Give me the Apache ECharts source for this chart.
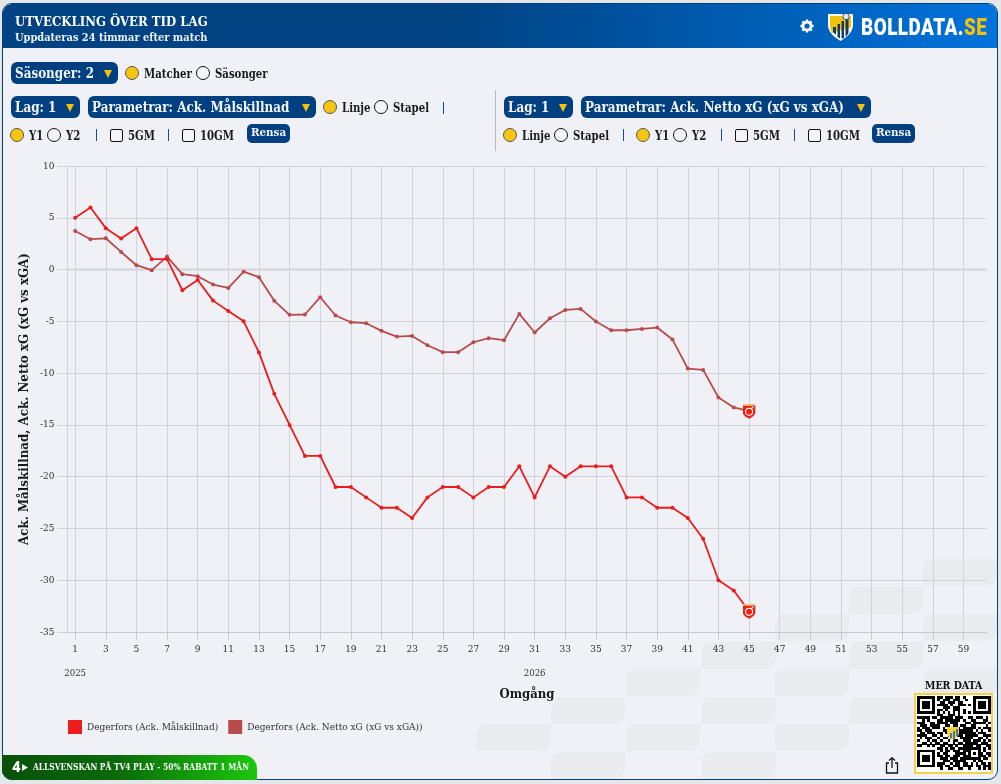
<!DOCTYPE html>
<html lang="sv"><head><meta charset="utf-8">
<script src="https://cdn.jsdelivr.net/npm/echarts@6/dist/echarts.min.js"></script>
<style>
html,body{margin:0;padding:0;width:1001px;height:784px;overflow:hidden;background:#e4e7ea;font-family:"DejaVu Serif Condensed","DejaVu Serif",serif}
#panel{position:absolute;left:2px;top:3px;width:994px;height:775px;background:#eff1f6;border:1.5px solid #004080;border-radius:10px;overflow:hidden}
#hdr{position:absolute;left:0;top:0;right:0;height:44px;background:linear-gradient(90deg,#004282 0,#004282 45%,#0073dc 100%)}
#pat{position:absolute;left:0;top:0;width:1001px;height:784px}
#chart{position:absolute;left:0;top:0;width:1001px;height:784px}
.a{position:absolute;white-space:nowrap}
.t{font-weight:700;font-size:12px;color:#1a1a1a;line-height:14px;transform:scaleX(.94);transform-origin:0 50%}
.btn{background:#004080;border-radius:6px;height:22px;box-sizing:border-box}
.btn b{position:absolute;left:4px;top:1px;color:#f2f4f8;font-weight:700;font-size:14px;line-height:20px;transform:scaleX(.95);transform-origin:0 50%}
.btn i{position:absolute;right:6px;top:8px;width:0;height:0;border-left:4.5px solid transparent;border-right:4.5px solid transparent;border-top:8px solid #f4c20d}
.r{position:absolute;width:12px;height:12px;border:1px solid #111;border-radius:50%;background:#f4f5f9}
.r.on{background:#f7c511;border-color:#555}
.c{position:absolute;width:11px;height:11px;border:1px solid #111;border-radius:2px;background:#f4f5f9}
.s{position:absolute;width:1px;height:12px;background:#0a4f92}
.rn{background:#004080;border-radius:5px;color:#f2f4f8;font-weight:700;font-size:11.5px;height:19px;line-height:17px;text-align:center;width:43px}
</style></head><body>
<div id="panel"><div id="hdr"></div></div>
<svg id="pat"></svg>
<div id="chart"></div>
<div id="ui"></div>
<script>
const rounds = ["1","2","3","4","5","6","7","8","9","10","11","12","13","14","15","16","17","18","19","20","21","22","23","24","25","26","27","28","29","30","31","32","33","34","35","36","37","38","39","40","41","42","43","44","45","46","47","48","49","50","51","52","53","54","55","56","57","58","59","60"];
const yearLabels = {"1":"2025","31":"2026"};
const goalDiff = [5,6,4,3,4,1,1,-2,-1,-3,-4,-5,-8,-12,-15,-18,-18,-21,-21,-22,-23,-23,-24,-22,-21,-21,-22,-21,-21,-19,-22,-19,-20,-19,-19,-19,-22,-22,-23,-23,-24,-26,-30,-31,-33];
const netXg = [3.73,2.93,3.02,1.7,0.42,-0.06,1.25,-0.45,-0.64,-1.45,-1.77,-0.2,-0.74,-3.02,-4.37,-4.34,-2.67,-4.44,-5.09,-5.18,-5.92,-6.47,-6.41,-7.31,-7.98,-7.98,-7.02,-6.63,-6.82,-4.28,-6.08,-4.7,-3.9,-3.8,-5.02,-5.86,-5.86,-5.73,-5.6,-6.76,-9.56,-9.69,-12.36,-13.32,-13.68];
const seriesNames = ["Degerfors (Ack. Målskillnad)","Degerfors (Ack. Netto xG (xG vs xGA))"];
const yTitle = "Ack. Målskillnad, Ack. Netto xG (xG vs xGA)";
const xTitle = "Omgång";
const FONT = '"DejaVu Serif Condensed","DejaVu Serif",serif';

/* crest shown on the latest round */
const crest = 'image://data:image/svg+xml;utf8,' + encodeURIComponent('<svg xmlns="http://www.w3.org/2000/svg" width="26" height="30" viewBox="0 0 26 30"><path d="M0 0H26V4H0Z" fill="#eec27a"/><path d="M0 4H26V16C26 23 19 27 13 30C7 27 0 23 0 16Z" fill="#e8230f"/><circle cx="13" cy="16" r="7" fill="#e8230f" stroke="#fff" stroke-width="2.200"/><path d="M17 10L22 6" stroke="#fff" stroke-width="2.200"/></svg>');
const sym = (v,p)=> p.dataIndex===44 ? crest : 'circle';
const symS = (v,p)=> p.dataIndex===44 ? [13,15] : 4;

const chart = echarts.init(document.getElementById('chart'),null,{renderer:'canvas'});
chart.setOption({
  animation:false,
  backgroundColor:'transparent',
  textStyle:{fontFamily:FONT},
  grid:{left:67.5,top:166,width:919,height:466,containLabel:false},
  legend:{left:68,top:720,icon:'rect',itemWidth:14,itemHeight:14,itemGap:10,padding:0,
    textStyle:{fontFamily:FONT,fontSize:10,color:'#333'},
    data:seriesNames},
  xAxis:[{
    type:'category',data:rounds,position:'bottom',boundaryGap:true,
    axisLine:{show:true,onZero:false,lineStyle:{color:'#c6c9cf',width:1}},
    axisTick:{show:true,alignWithLabel:true,interval:1,length:8,lineStyle:{color:'#c6c9cf'}},
    axisLabel:{interval:1,margin:12,fontSize:10,color:'#333',fontFamily:FONT},
    splitLine:{show:true,interval:1,alignWithLabel:true,lineStyle:{color:'#d0d3d9',width:1}},
    name:xTitle,nameLocation:'middle',nameGap:56,
    nameTextStyle:{fontFamily:FONT,fontWeight:'bold',fontSize:13,color:'#1a1a1a'}
  },{
    type:'category',data:rounds,position:'bottom',offset:29,boundaryGap:true,
    axisLine:{show:false},axisTick:{show:false},splitLine:{show:false},
    axisLabel:{interval:0,fontSize:9.5,color:'#333',fontFamily:FONT,hideOverlap:false,
      formatter:v=>yearLabels[v]||''}
  }],
  yAxis:{
    type:'value',min:-35,max:10,interval:5,
    axisLine:{show:true,lineStyle:{color:'#d0d3d9'}},
    axisTick:{show:true,length:10,lineStyle:{color:'#d0d3d9'}},
    axisLabel:{margin:13,fontSize:10,color:'#333',fontFamily:FONT},
    splitLine:{show:true,lineStyle:{color:'#d0d3d9',width:1}},
    name:yTitle,nameLocation:'middle',nameGap:36,nameRotate:90,nameMoveOverlap:false,
    nameTextStyle:{fontFamily:FONT,fontWeight:'bold',fontSize:13.2,color:'#1a1a1a'}
  },
  series:[
    {name:seriesNames[0],type:'line',data:goalDiff,showSymbol:true,showAllSymbol:true,symbol:sym,symbolSize:symS,
     color:'#f4140f',lineStyle:{color:'#ea1c1c',width:1.8},itemStyle:{color:'#ea1c1c'},z:3,
     markLine:{silent:true,symbol:'none',label:{show:false},animation:false,z:1,
       lineStyle:{color:'#d6d8dd',width:2.5,type:'solid'},data:[{yAxis:0}]}},
    {name:seriesNames[1],type:'line',data:netXg,showSymbol:true,showAllSymbol:true,symbol:sym,symbolSize:symS,
     color:'#b84c4c',lineStyle:{color:'#b84c4c',width:1.8},itemStyle:{color:'#b84c4c'},z:2}
  ]
});

/* background tiles */
const tileCols = [477,551,626,702,775,849,923];
const tileRows = [559,587,614,642,669,697,724,752];
const tilePairs = [[0,6],[1,5],[2,4],[2,6],[3,3],[3,5],[4,2],[4,4],[4,6],[5,1],[5,3],[5,5],[6,0],[6,2],[6,4],[7,1],[7,3]];
document.getElementById('pat').innerHTML = tilePairs.map(([r,c])=>{
  const x=tileCols[c],y=tileRows[r],w=74,h=27;
  return `<path d="M${x+9} ${y}H${x+w}V${y+12}Q${x+w} ${y+h} ${x+w-13} ${y+h}H${x}V${y+13}Q${x} ${y} ${x+9} ${y}Z" fill="#e9ebef"/>`;
}).join('');

/* controls */
const ui = document.getElementById('ui');
const add = (html)=>ui.insertAdjacentHTML('beforeend',html);
const text=(x,y,s,st='')=>add(`<span class="a t" style="left:${x}px;top:${y-6}px;${st}">${s}</span>`);
const radio=(cx,cy,on)=>add(`<span class="r${on?' on':''}" style="left:${cx-7}px;top:${cy-7}px"></span>`);
const check=(x,y)=>add(`<span class="c" style="left:${x}px;top:${y}px"></span>`);
const sep=(x,y)=>add(`<span class="s" style="left:${x}px;top:${y}px"></span>`);
const btn=(x,y,w,s)=>add(`<span class="a btn" style="left:${x}px;top:${y}px;width:${w}px"><b>${s}</b><i></i></span>`);
const rensa=(x)=>add(`<span class="a rn" style="left:${x}px;top:124px">Rensa</span>`);

add(`<span class="a" style="left:15px;top:13px;font-weight:700;font-size:13.5px;line-height:16px;color:#fff;transform:scaleX(.965);transform-origin:0 50%">UTVECKLING ÖVER TID LAG</span>`);
add(`<span class="a" style="left:15px;top:30px;font-weight:700;font-size:11.5px;line-height:14px;color:#eef2f8;transform:scaleX(.95);transform-origin:0 50%">Uppdateras 24 timmar efter match</span>`);

btn(11,62,107,'Säsonger: 2'); radio(132,73,true); text(144,73,'Matcher'); radio(203,73,false); text(215,73,'Säsonger');
btn(11,96,69,'Lag: 1'); btn(88,96,228,'Parametrar: Ack. Målskillnad');
radio(330,107,true); text(342,107,'Linje'); radio(381,107,false); text(393,107,'Stapel'); sep(443,102);
radio(17,135,true); text(29,135,'Y1'); radio(54,135,false); text(66,135,'Y2'); sep(96,129);
check(110,129); text(128,135,'5GM'); sep(168,129); check(182,129); text(200,135,'10GM'); rensa(247);
add(`<span class="a" style="left:495px;top:90px;width:1px;height:61px;background:#b5b8bd"></span>`);
btn(504,96,69,'Lag: 1'); btn(581,96,290,'Parametrar: Ack. Netto xG (xG vs xGA)');
radio(510,135,true); text(522,135,'Linje'); radio(561,135,false); text(573,135,'Stapel'); sep(623,129);
radio(643,135,true); text(655,135,'Y1'); radio(680,135,false); text(692,135,'Y2'); sep(721,129);
check(735,129); text(753,135,'5GM'); sep(794,129); check(808,129); text(826,135,'10GM'); rensa(872);

/* header right: gear, shield, wordmark */
add(`<svg class="a" style="left:800px;top:19px" width="14" height="14" viewBox="0 0 16 16"><circle cx="8" cy="8" r="4.600" fill="none" stroke="#fff" stroke-width="3.200"/><g stroke="#fff" stroke-width="2.600"><path d="M8 0.500V3M8 13V15.500M0.500 8H3M13 8H15.500M2.700 2.700L4.500 4.500M11.500 11.500L13.300 13.300M2.700 13.300L4.500 11.500M11.500 4.500L13.300 2.700"/></g></svg>`);
add(`<svg class="a" style="left:828px;top:13px" width="25" height="28" viewBox="0 0 25 28"><path d="M0 1H25V12C25 20 17 25 12.500 28C8 25 0 20 0 12Z" fill="#fff"/><path d="M2 3H23V14C23 15 21 15 21 15L4 20C2.500 17 2 14 2 12Z" fill="#f4c20d"/><g fill="#123a66"><path d="M5 14H8V22L5 19Z"/><path d="M9.500 11H12V25.500L9.500 24Z"/><path d="M13.500 8H16V25L13.500 25.500Z"/><path d="M17.500 5H20.500V20C20 21 19 22.500 17.500 23.500Z"/></g><circle cx="18" cy="3.500" r="3.200" fill="#dfe8f2" stroke="#123a66" stroke-width=".8"/></svg>`);
add(`<span class="a" style="left:861px;top:13px;font-family:Roboto,sans-serif;font-weight:900;font-size:24.500px;line-height:28px;color:#fff;letter-spacing:.6px;transform:scaleX(.77);transform-origin:0 50%">BOLLDATA.<span style="color:#f4c20d">SE</span></span>`);

/* promo strip */
add(`<div class="a" style="left:2px;top:755px;width:255px;height:25px;background:linear-gradient(90deg,#07520a 0,#0a6a0a 45%,#1cc70c 100%);border-radius:0 14px 0 10px"></div>`);
add(`<span class="a" style="left:12px;top:759px;font-family:Roboto,sans-serif;font-weight:900;font-size:15px;line-height:17px;color:#fff">4</span>`);
add(`<svg class="a" style="left:22px;top:764px" width="6" height="7"><path d="M0 0L6 3.500L0 7Z" fill="#fff"/></svg>`);
add(`<span class="a" style="left:33px;top:760px;font-weight:700;font-size:9.500px;line-height:13px;color:#fff;transform:scaleX(.875);transform-origin:0 50%">ALLSVENSKAN PÅ TV4 PLAY - 50% RABATT 1 MÅN</span>`);

/* share icon */
add(`<svg class="a" style="left:885px;top:757px" width="14" height="17" viewBox="0 0 14 17" fill="none" stroke="#111" stroke-width="1.300"><path d="M4 6H1.500V16H12.500V6H10"/><path d="M7 11V1M4 3.500L7 .8L10 3.500"/></svg>`);

/* QR block */
add(`<span class="a" style="left:925px;top:679px;font-weight:700;font-size:11px;line-height:14px;color:#111;transform:scaleX(.95);transform-origin:0 50%">MER DATA</span>`);
const qrRows = [
"11111110110111011010001111111",
"10000010101110111001001000001",
"10111010011011101100001011101",
"10111010111101001110101011101",
"10111010001110111000001011101",
"10000010110100111010001000001",
"11111110101010101010101111111",
"00000000110011101000000000000",
"11111011011111011100110111010",
"00101000110111111010011000110",
"11100110111101110001101111101",
"01110111100110110110011000010",
"10111011101010011011111010111",
"11011100001101001111110101001",
"01101110110100101111111011100",
"11110011010011011101111100111",
"01011100101101000111110011010",
"10001011010010110011101110101",
"00110101101100101101111101110",
"11001010011011010011110110011",
"00000000110101101111111110101",
"11111110010110111011100010100",
"10000010101100011110101011011",
"10111010110110111011100011101",
"10111010011101110111111110110",
"10111010001110111110001011000",
"10000010111001011011010101101",
"11111110110110111011110110111",
"00000000010011001100100010101"];
let q='';qrRows.forEach((row,j)=>[...row].forEach((b,i)=>{if(b==='1')q+=`<rect x="${i}" y="${j}" width="1.02" height="1.02"/>`;}));
add(`<div class="a" style="left:914px;top:693px;width:75px;height:77px;background:#fff;border:2px solid #f3d24a"></div>`);
add(`<svg class="a" style="left:917px;top:696px" width="74" height="74" viewBox="0 0 29 29" fill="#000" shape-rendering="crispEdges">${q}</svg>`);
add(`<svg class="a" style="left:947px;top:727px" width="12" height="13" viewBox="0 0 12 13"><path d="M0 0H12V6C12 9 8 12 6 13C4 12 0 9 0 6Z" fill="#f4d23a"/><path d="M3 6H5V11H3ZM6 4H8V12H6ZM9 2H11V9H9Z" fill="#4a7a9a"/></svg>`);
</script>
</body></html>
